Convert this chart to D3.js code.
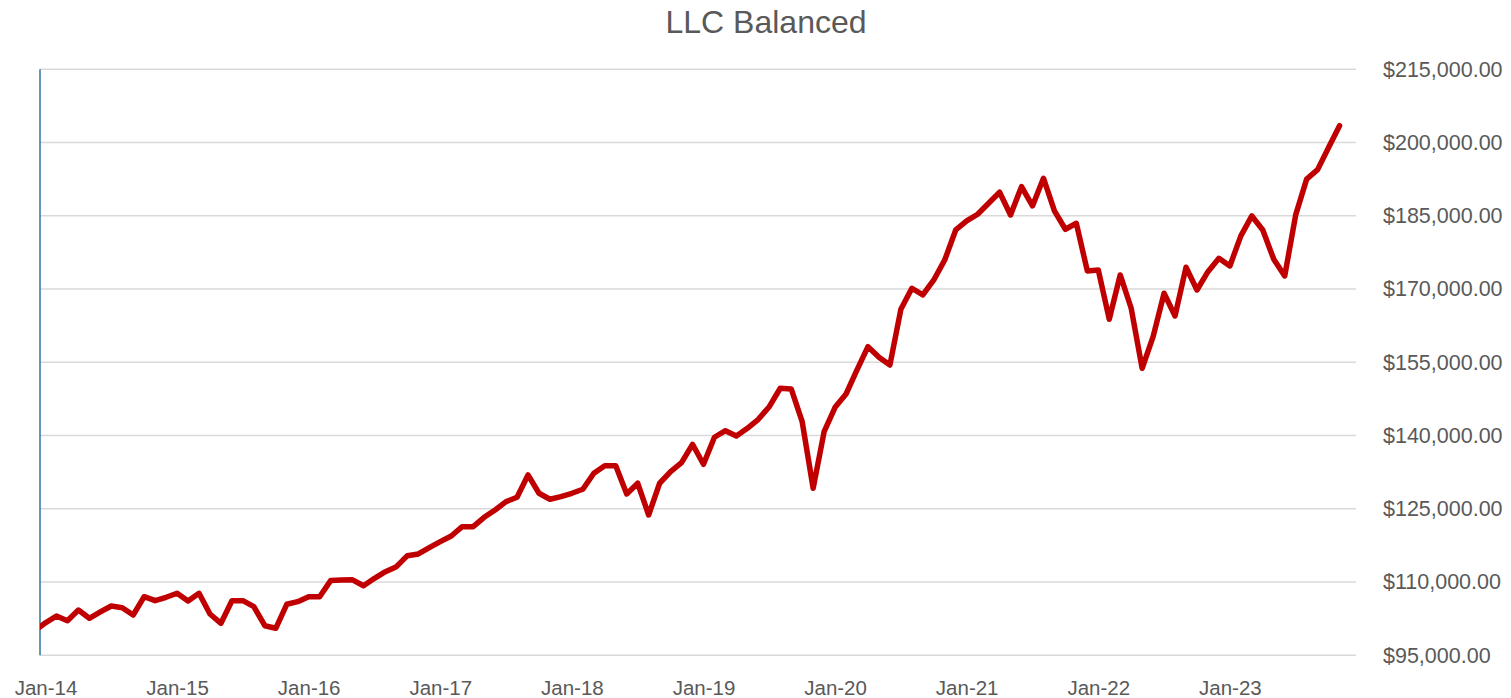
<!DOCTYPE html>
<html>
<head>
<meta charset="utf-8">
<script src="https://cdn.jsdelivr.net/npm/d3@7"></script>
<style>
  body { margin: 0; background: #fff; }
  text { font-family: "Liberation Sans", Arial, sans-serif; }
</style>
</head>
<body>
<div id="chart"></div>
<script>
// month index 0 = Jan-14; the series starts one month earlier (Dec-13)
const firstIndex = -1;
const balance = [
  100000, 101650, 103050, 102090, 104280, 102580, 103870, 105100, 104750, 103250, 107000, 106180, 106880,
  107700, 106120, 107700, 103460, 101550, 106180, 106180, 104960, 101060, 100530, 105450, 105980,
  107000, 107000, 110300, 110400, 110450, 109250, 110770, 112120, 113150, 115400, 115750, 117040,
  118270, 119430, 121340, 121340, 123260, 124760, 126460, 127360, 131930, 128180, 126950, 127480,
  128180, 129000, 132270, 133830, 133830, 128030, 130230, 123730, 130230, 132600, 134450, 138210,
  134120, 139650, 141000, 139910, 141490, 143330, 145910, 149680, 149540, 142840, 129200, 140790,
  145790, 148510, 153430, 158200, 156030, 154450, 165860, 170160, 168790, 171860, 175960, 182100,
  183950, 185320, 187570, 189820, 185170, 190970, 187020, 192690, 186000, 182240, 183470, 173700,
  173910, 163810, 172890, 166070, 153780, 160250, 169140, 164490, 174460, 169810, 173560, 176300,
  174730, 180880, 184970, 182100, 176100, 172680, 185180, 192520, 194460, 199000, 203460
];
const xTickMonths = [0, 12, 24, 36, 48, 60, 72, 84, 96, 108];
const xTickLabels = ["Jan-14", "Jan-15", "Jan-16", "Jan-17", "Jan-18", "Jan-19", "Jan-20", "Jan-21", "Jan-22", "Jan-23"];
const yTicks = [95000, 110000, 125000, 140000, 155000, 170000, 185000, 200000, 215000];

const width = 1511, height = 698;
const plot = {left: 40, right: 1356, top: 69.3, bottom: 655.3};

const svg = d3.select("#chart").append("svg")
    .attr("width", width)
    .attr("height", height);

const x = d3.scaleLinear().domain([-0.5, 119.5]).range([plot.left, plot.right]);
const y = d3.scaleLinear().domain([95000, 215000]).range([plot.bottom, plot.top]);

// title
svg.append("text")
    .attr("x", 766)
    .attr("y", 33)
    .attr("text-anchor", "middle")
    .style("font-size", "32px")
    .style("fill", "#595959")
    .text("LLC Balanced");

// gridlines
svg.append("g")
    .selectAll("line")
    .data(yTicks)
    .join("line")
    .attr("x1", plot.left)
    .attr("x2", plot.right)
    .attr("y1", d => y(d))
    .attr("y2", d => y(d))
    .attr("stroke", "#d9d9d9")
    .attr("stroke-width", 1.5);

// y axis on the right
const yAxis = svg.append("g")
    .attr("transform", `translate(1380,0)`)
    .call(d3.axisRight(y).tickValues(yTicks).tickSize(0).tickPadding(3).tickFormat(d3.format("$,.2f")));
yAxis.select(".domain").remove();
yAxis.selectAll("text")
    .style("font-size", "21.5px")
    .style("fill", "#595959")
    .style("font-family", "'Liberation Sans', Arial, sans-serif");

// x axis labels
const xAxis = svg.append("g")
    .attr("transform", `translate(0,${plot.bottom})`)
    .call(d3.axisBottom(x).tickValues(xTickMonths).tickSize(0).tickPadding(25)
        .tickFormat((d, i) => xTickLabels[i]));
xAxis.select(".domain").remove();
xAxis.selectAll("text")
    .style("font-size", "20.5px")
    .style("fill", "#595959")
    .style("font-family", "'Liberation Sans', Arial, sans-serif");

// vertical axis line at the left
svg.append("line")
    .attr("x1", plot.left)
    .attr("x2", plot.left)
    .attr("y1", plot.top)
    .attr("y2", plot.bottom)
    .attr("stroke", "#31739c")
    .attr("stroke-width", 1.5);

svg.append("clipPath")
    .attr("id", "plot-clip")
    .append("rect")
    .attr("x", plot.left)
    .attr("y", 0)
    .attr("width", plot.right - plot.left)
    .attr("height", height);

const line = d3.line()
    .x((d, i) => x(firstIndex + i))
    .y(d => y(d));

svg.append("path")
    .datum(balance)
    .attr("clip-path", "url(#plot-clip)")
    .attr("d", line)
    .attr("fill", "none")
    .attr("stroke", "#c00000")
    .attr("stroke-width", 5.5)
    .attr("stroke-linejoin", "round")
    .attr("stroke-linecap", "round");
</script>
</body>
</html>
